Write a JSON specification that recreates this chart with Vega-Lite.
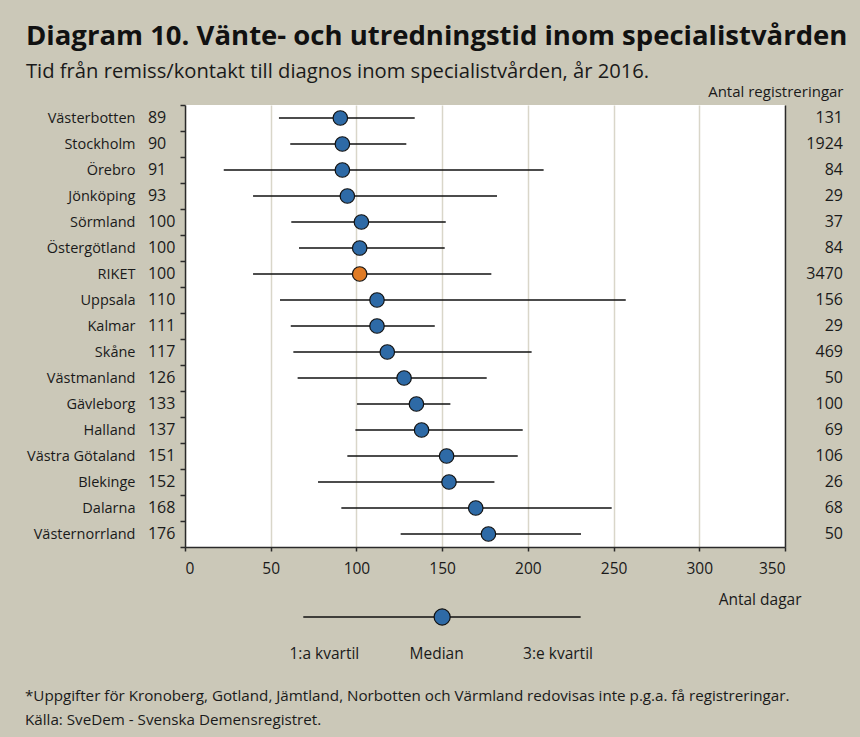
{
  "$schema": "https://vega.github.io/schema/vega-lite/v6.json",
  "background": "#cbc8b8",
  "padding": {"left": 25, "top": 23, "right": 16, "bottom": 24},
  "config": {
    "font": "Open Sans",
    "concat": {"spacing": -2},
    "axis": {"labelColor": "#1a1a1a", "titleColor": "#1a1a1a", "domainColor": "#2a2a2a", "tickColor": "#2a2a2a"}
  },
  "vconcat": [
    {
      "title": {
        "text": "Diagram 10. Vänte- och utredningstid inom specialistvården",
        "subtitle": "Tid från remiss/kontakt till diagnos inom specialistvården, år 2016.",
        "anchor": "start",
        "frame": "group",
        "dx": -159,
        "fontSize": 27.5,
        "fontWeight": "bold",
        "color": "#111111",
        "subtitleFontSize": 20.2,
        "subtitleColor": "#1a1a1a",
        "subtitlePadding": 11,
        "offset": 2
      },
      "width": 600,
      "height": 442,
      "view": {"fill": "white", "stroke": null},
      "data": {
        "values": [
          {"region": "Västerbotten", "median": 90.6, "label": 89, "q1": 54.8, "q3": 134.0, "n": 131},
          {"region": "Stockholm", "median": 91.8, "label": 90, "q1": 61.4, "q3": 129.1, "n": 1924},
          {"region": "Örebro", "median": 91.8, "label": 91, "q1": 22.6, "q3": 209.2, "n": 84},
          {"region": "Jönköping", "median": 94.7, "label": 93, "q1": 39.7, "q3": 182.0, "n": 29},
          {"region": "Sörmland", "median": 102.9, "label": 100, "q1": 62.0, "q3": 152.1, "n": 37},
          {"region": "Östergötland", "median": 101.9, "label": 100, "q1": 66.5, "q3": 151.5, "n": 84},
          {"region": "RIKET", "median": 101.9, "label": 100, "q1": 39.7, "q3": 178.7, "n": 3470},
          {"region": "Uppsala", "median": 112, "label": 110, "q1": 55.4, "q3": 257.1, "n": 156},
          {"region": "Kalmar", "median": 112, "label": 111, "q1": 61.7, "q3": 145.7, "n": 29},
          {"region": "Skåne", "median": 118, "label": 117, "q1": 63.2, "q3": 202.2, "n": 469},
          {"region": "Västmanland", "median": 127.8, "label": 126, "q1": 65.7, "q3": 176.0, "n": 50},
          {"region": "Gävleborg", "median": 135, "label": 133, "q1": 100.3, "q3": 154.8, "n": 100},
          {"region": "Halland", "median": 138, "label": 137, "q1": 99.4, "q3": 197.0, "n": 69},
          {"region": "Västra Götaland", "median": 152.6, "label": 151, "q1": 94.7, "q3": 194.1, "n": 106},
          {"region": "Blekinge", "median": 154, "label": 152, "q1": 77.6, "q3": 180.5, "n": 26},
          {"region": "Dalarna", "median": 169.6, "label": 168, "q1": 91.2, "q3": 248.9, "n": 68},
          {"region": "Västernorrland", "median": 177, "label": 176, "q1": 125.8, "q3": 231.0, "n": 50}
        ]
      },
      "resolve": {"axis": {"y": "independent", "x": "independent"}},
      "layer": [
        {
          "mark": {"type": "rule", "color": "#111111", "strokeWidth": 1.3},
          "encoding": {
            "y": {
              "field": "region", "type": "nominal", "sort": null,
              "scale": {"paddingInner": 0, "paddingOuter": 0},
              "axis": {"title": null, "orient": "left", "tickBand": "extent", "tickSize": 5, "labelPadding": 45, "labelFontSize": 14.5, "domainWidth": 1.5, "tickWidth": 1.5}
            },
            "x": {
              "field": "q1", "type": "quantitative",
              "scale": {"domain": [0, 350], "nice": false, "zero": false},
              "axis": {
                "values": [0, 50, 100, 150, 200, 250, 300, 350],
                "grid": true, "gridColor": "#d9d6c9", "gridWidth": 1.5,
                "tickSize": 4, "domainWidth": 1.5, "tickWidth": 1.5,
                "labelFontSize": 15.5, "labelPadding": 10,
                "title": "Antal dagar", "titleFontSize": 15.5, "titleFontWeight": "normal",
                "titleAnchor": "end", "titleAlign": "right", "titleX": 616, "titleY": 52, "titleBaseline": "middle"
              }
            },
            "x2": {"field": "q3"}
          }
        },
        {
          "mark": {"type": "circle", "size": 210, "opacity": 1, "stroke": "#111111", "strokeWidth": 1.2},
          "encoding": {
            "y": {"field": "region", "type": "nominal", "sort": null, "axis": null},
            "x": {"field": "median", "type": "quantitative", "scale": {"domain": [0, 350], "nice": false, "zero": false}, "axis": null},
            "color": {
              "condition": {"test": "datum.region === 'RIKET'", "value": "#e07b25"},
              "value": "#2e6aa6"
            }
          }
        },
        {
          "mark": {"type": "text", "align": "left", "baseline": "middle", "fontSize": 16, "color": "#1a1a1a", "clip": false},
          "encoding": {
            "y": {"field": "region", "type": "nominal", "sort": null, "axis": null},
            "x": {"datum": -21.6, "type": "quantitative", "scale": {"domain": [0, 350], "nice": false, "zero": false}, "axis": null},
            "text": {"field": "label"}
          }
        },
        {
          "mark": {"type": "text", "align": "right", "baseline": "middle", "fontSize": 16, "color": "#1a1a1a", "clip": false},
          "encoding": {
            "y": {
              "field": "region", "type": "nominal", "sort": null,
              "axis": {"orient": "right", "labels": false, "ticks": false, "domainWidth": 1.5,
                "title": "Antal registreringar", "titleAngle": 0, "titleFontSize": 15, "titleFontWeight": "normal",
                "titleAlign": "right", "titleBaseline": "middle", "titleX": 58, "titleY": -14}
            },
            "x": {"datum": 383.8, "type": "quantitative", "scale": {"domain": [0, 350], "nice": false, "zero": false}, "axis": null},
            "text": {"field": "n"}
          }
        }
      ]
    },
    {
      "width": 600,
      "height": 37,
      "view": {"stroke": null},
      "title": {
        "text": ["*Uppgifter för Kronoberg, Gotland, Jämtland, Norbotten och Värmland redovisas inte  p.g.a. få registreringar.", "Källa: SveDem - Svenska Demensregistret."],
        "orient": "bottom",
        "anchor": "start",
        "frame": "group",
        "dx": -160,
        "fontSize": 15.2,
        "fontWeight": "normal",
        "color": "#1a1a1a",
        "lineHeight": 24,
        "offset": 26
      },
      "data": {
        "values": [
          {"part": "1:a kvartil", "row": "label", "pos": 81.3, "q1": 69.0, "median": 150, "q3": 230.8},
          {"part": "Median", "row": "label", "pos": 146.8, "q1": 69.0, "median": 150, "q3": 230.8},
          {"part": "3:e kvartil", "row": "label", "pos": 217.6, "q1": 69.0, "median": 150, "q3": 230.8}
        ]
      },
      "layer": [
        {
          "transform": [{"filter": "datum.part === 'Median'"}],
          "mark": {"type": "rule", "color": "#111111", "strokeWidth": 1.3},
          "encoding": {
            "x": {"field": "q1", "type": "quantitative", "scale": {"domain": [0, 350], "nice": false, "zero": false}, "axis": null},
            "x2": {"field": "q3"},
            "y": {"datum": "line", "type": "ordinal", "scale": {"type": "point", "padding": 0, "domain": ["line", "label"]}, "axis": null}
          }
        },
        {
          "transform": [{"filter": "datum.part === 'Median'"}],
          "mark": {"type": "circle", "size": 260, "opacity": 1, "color": "#2e6aa6", "stroke": "#111111", "strokeWidth": 1.2},
          "encoding": {
            "x": {"field": "median", "type": "quantitative", "scale": {"domain": [0, 350], "nice": false, "zero": false}, "axis": null},
            "y": {"datum": "line", "type": "ordinal", "scale": {"type": "point", "padding": 0, "domain": ["line", "label"]}, "axis": null}
          }
        },
        {
          "mark": {"type": "text", "align": "center", "baseline": "middle", "fontSize": 15.5, "color": "#1a1a1a"},
          "encoding": {
            "x": {"field": "pos", "type": "quantitative", "scale": {"domain": [0, 350], "nice": false, "zero": false}, "axis": null},
            "y": {"field": "row", "type": "ordinal", "scale": {"type": "point", "padding": 0, "domain": ["line", "label"]}, "axis": null},
            "text": {"field": "part"}
          }
        }
      ]
    }
  ]
}
